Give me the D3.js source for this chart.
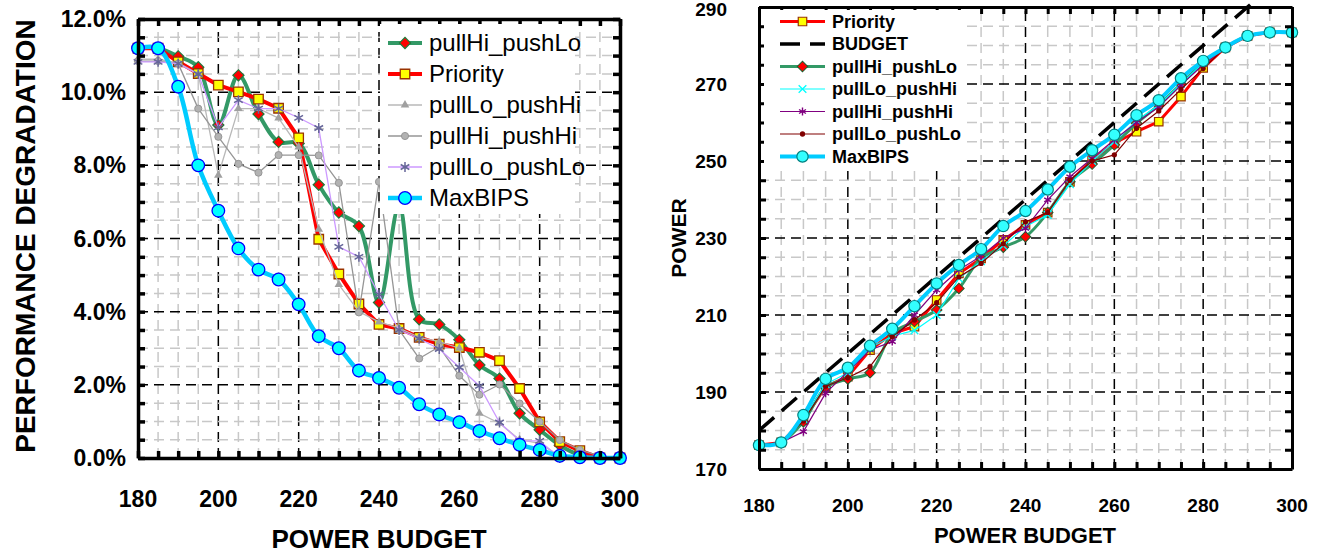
<!DOCTYPE html>
<html>
<head>
<meta charset="utf-8">
<script src="https://cdn.jsdelivr.net/npm/d3@7"></script>
<style>
  body { margin: 0; background: #fff; }
  svg { display: block; font-family: "Liberation Sans", Arial, sans-serif; }
</style>
</head>
<body>
<svg width="1327" height="554"></svg>
<script>
const svg = d3.select("svg");

// x categories (power budget), shared by both charts
const budgets = [180, 185, 190, 195, 200, 205, 210, 215, 220, 225, 230, 235, 240,
                 245, 250, 255, 260, 265, 270, 275, 280, 285, 290, 295, 300];

// left chart: performance degradation (%)
const degHiLo = [11.2, 11.2, 10.98, 10.68, 9.1, 10.46, 9.4, 8.64, 8.6, 7.47, 6.71, 6.34, 4.25,
                 6.89, 3.79, 3.65, 3.23, 2.54, 2.17, 1.22, 0.77, 0.35, 0.08, 0, 0];
const degPriority = [11.2, 11.2, 10.83, 10.51, 10.19, 10.01, 9.81, 9.56, 8.75, 5.98, 5.03, 4.21, 3.65,
                     3.54, 3.3, 3.11, 3.02, 2.89, 2.66, 1.9, 0.99, 0.45, 0.2, 0, 0];
const degLoHi = [10.9, 10.9, 10.8, 10.5, 7.73, 9.55, 9.55, 9.29, 8.5, 6.25, 4.74, 4.0, 3.72,
                 3.55, 3.3, 3.18, 3.0, 1.22, 0.95, 0.5, 0.4, 0.05, 0, 0, 0];
const degHiHi = [10.85, 10.85, 10.78, 9.55, 8.78, 8.04, 7.8, 8.28, 8.28, 8.27, 7.52, 3.98, 7.55,
                 3.5, 2.72, 3.04, 2.25, 1.73, 2.01, 1.49, 0.99, 0.49, 0.22, 0.05, 0];
const degLoLo = [10.83, 10.83, 10.78, 10.49, 9.04, 9.78, 9.55, 9.55, 9.3, 9.02, 5.77, 5.5, 4.47,
                 3.5, 3.26, 2.98, 2.48, 1.97, 0.97, 0.47, 0.47, 0, 0, 0, 0];
const degMaxBIPS = [11.2, 11.2, 10.15, 8.0, 6.76, 5.73, 5.15, 4.88, 4.2, 3.33, 3.0, 2.39, 2.19,
                    1.92, 1.47, 1.19, 0.98, 0.74, 0.54, 0.36, 0.22, 0.06, 0.02, 0, 0];

// right chart: power
const pwPriority = [176.2, 176.9, 182.7, 191.4, 194.0, 200.9, 205.2, 207.0, 213.9, 220.8, 224.7, 229.5, 233.4,
                    236.6, 244.6, 250.3, 254.6, 257.6, 260.2, 266.7, 274.2, 279.5, 282.5, 283.4, 283.4];
const pwBudget = [180, 292];
const pwHiLo = [176.2, 176.9, 182.3, 191.2, 193.4, 195.0, 205.2, 208.3, 211.3, 216.9, 224.7, 227.6, 230.3,
                236.6, 244.6, 249.2, 254.2, 259.8, 264.5, 270.0, 275.5, 279.5, 282.5, 283.4, 283.4];
const pwLoHi = [176.2, 176.9, 183.0, 192.0, 195.0, 201.5, 204.5, 206.0, 210.0, 219.5, 224.0, 228.0, 233.0,
                236.0, 244.0, 250.0, 255.0, 260.5, 264.5, 270.0, 275.5, 279.5, 282.5, 283.4, 283.4];
const pwHiHi = [176.2, 176.9, 179.7, 189.7, 195.3, 200.9, 203.1, 210.0, 216.5, 221.7, 225.3, 230.0, 232.5,
                239.9, 245.9, 250.7, 255.5, 260.0, 264.0, 269.7, 275.0, 279.5, 282.5, 283.4, 283.4];
const pwLoLo = [176.2, 176.9, 182.5, 191.5, 193.7, 196.6, 204.4, 208.7, 213.2, 219.9, 223.4, 228.5, 234.2,
                236.6, 245.0, 250.0, 251.6, 258.5, 263.0, 268.6, 274.0, 279.5, 282.5, 283.4, 283.4];
const pwMaxBIPS = [176.2, 176.9, 184.0, 193.4, 196.3, 202.0, 206.4, 212.3, 218.2, 223.0, 227.1, 233.1, 237.0,
                   242.6, 248.5, 252.8, 256.8, 261.9, 265.8, 271.5, 276.0, 279.5, 282.5, 283.4, 283.4];

// tick values
const xMinor = budgets;
const xLabels = [180, 200, 220, 240, 260, 280, 300];
const degMinor = [0, 0.5, 1, 1.5, 2, 2.5, 3, 3.5, 4, 4.5, 5, 5.5, 6, 6.5, 7, 7.5, 8, 8.5, 9, 9.5, 10, 10.5, 11, 11.5, 12];
const degLabels = [0, 2, 4, 6, 8, 10, 12];
const pwMinor = [170, 175, 180, 185, 190, 195, 200, 205, 210, 215, 220, 225, 230, 235, 240, 245,
                 250, 255, 260, 265, 270, 275, 280, 285, 290];
const pwLabels = [170, 190, 210, 230, 250, 270, 290];

// ---------- helpers ----------
function marker(kind, size) {
  const t = { circle: d3.symbolCircle, square: d3.symbolSquare, diamond: d3.symbolSquare,
              triangle: d3.symbolTriangle, star: d3.symbolAsterisk, times: d3.symbolTimes }[kind];
  return d3.symbol(t, size)();
}

function grid(g, x, y, xs, ys, xMajor, yMajor) {
  const [x0, x1] = x.range(), [y0, y1] = y.range();
  const isMaj = (arr, v) => arr.includes(v);
  g.selectAll(null).data(xs.filter(v => v > x.domain()[0] && v < x.domain()[1])).join("line")
    .attr("x1", d => x(d)).attr("x2", d => x(d)).attr("y1", y0).attr("y2", y1)
    .attr("stroke", d => isMaj(xMajor, d) ? "#000" : "#c8c8c8")
    .attr("stroke-width", 1.5).attr("stroke-dasharray", "10,6");
  g.selectAll(null).data(ys.filter(v => v > y.domain()[0] && v < y.domain()[1])).join("line")
    .attr("y1", d => y(d)).attr("y2", d => y(d)).attr("x1", x0).attr("x2", x1)
    .attr("stroke", d => isMaj(yMajor, d) ? "#000" : "#c8c8c8")
    .attr("stroke-width", 1.5).attr("stroke-dasharray", "10,6");
}

function frame(g, x, y, xs, ys, lw) {
  const [x0, x1] = x.range(), [y0, y1] = y.range();
  [[d3.axisBottom(x), y0], [d3.axisTop(x), y1]].forEach(([ax, pos]) => {
    g.append("g").attr("transform", `translate(0,${pos})`)
      .call(ax.tickValues(xs).tickSize(-7).tickSizeOuter(0).tickFormat(""))
      .call(a => a.selectAll("line,path").attr("stroke", "#000").attr("stroke-width", lw));
  });
  [[d3.axisLeft(y), x0], [d3.axisRight(y), x1]].forEach(([ax, pos]) => {
    g.append("g").attr("transform", `translate(${pos},0)`)
      .call(ax.tickValues(ys).tickSize(-7).tickSizeOuter(0).tickFormat(""))
      .call(a => a.selectAll("line,path").attr("stroke", "#000").attr("stroke-width", lw));
  });
}

function series(g, x, y, xs, ys, st) {
  const line = d3.line().x((d, i) => x(xs[i])).y(d => y(d)).curve(st.curve || d3.curveLinear);
  g.append("path").datum(ys).attr("d", line).attr("fill", "none")
    .attr("stroke", st.color).attr("stroke-width", st.lw)
    .attr("stroke-linejoin", "round").attr("stroke-dasharray", st.dash || null);
  if (!st.mk) return;
  g.selectAll(null).data(ys).join("path")
    .attr("transform", (d, i) => `translate(${x(xs[i])},${y(d)})` + (st.mk === "diamond" ? " rotate(45)" : ""))
    .attr("d", marker(st.mk, st.size))
    .attr("fill", st.fill || "none").attr("stroke", st.stroke || "none")
    .attr("stroke-width", st.sw || 1);
}

function legend(g, x, y0, dy, items, fontSize, weight, lineLen) {
  items.forEach((it, i) => {
    const y = y0 + i * dy;
    g.append("line").attr("x1", x).attr("x2", x + lineLen).attr("y1", y).attr("y2", y)
      .attr("stroke", it.st.color).attr("stroke-width", it.st.lw)
      .attr("stroke-dasharray", it.st.dash || null);
    if (it.st.mk) {
      g.append("path").attr("transform", `translate(${x + lineLen / 2},${y})` + (it.st.mk === "diamond" ? " rotate(45)" : ""))
        .attr("d", marker(it.st.mk, it.st.size))
        .attr("fill", it.st.fill || "none").attr("stroke", it.st.stroke || "none")
        .attr("stroke-width", it.st.sw || 1);
    }
    g.append("text").attr("x", x + lineLen + 7).attr("y", y).attr("dy", "0.35em")
      .attr("font-size", fontSize).attr("font-weight", weight).text(it.name);
  });
}

// ---------- left chart ----------
const xL = d3.scaleLinear().domain([180, 300]).range([138, 620]);
const yL = d3.scaleLinear().domain([0, 12]).range([458, 19]);
const gL = svg.append("g");

grid(gL, xL, yL, xMinor, degMinor, [200, 220, 240, 260, 280], [2, 4, 6, 8, 10]);

const stL = {
  hiLo: { color: "#339966", lw: 4, curve: d3.curveCatmullRom, mk: "diamond", size: 62, fill: "#ff0000", stroke: "#1f7a3a", sw: 1.2 },
  pri: { color: "#ff0000", lw: 4, mk: "square", size: 90, fill: "#ffff00", stroke: "#993300", sw: 1.3 },
  loHi: { color: "#b8b8b8", lw: 1.3, mk: "triangle", size: 32, fill: "#a0a0a0" },
  hiHi: { color: "#969696", lw: 1.3, mk: "circle", size: 40, fill: "#b2b2b2", stroke: "#969696", sw: 1 },
  loLo: { color: "#cc99ff", lw: 1.3, mk: "star", size: 70, stroke: "#666699", sw: 1.5 },
  max: { color: "#00ccff", lw: 4.5, curve: d3.curveCatmullRom, mk: "circle", size: 125, fill: "#00ffff", stroke: "#0000ff", sw: 1.3 }
};

series(gL, xL, yL, budgets, degHiLo, stL.hiLo);
series(gL, xL, yL, budgets, degPriority, stL.pri);
series(gL, xL, yL, budgets, degLoHi, stL.loHi);
series(gL, xL, yL, budgets, degHiHi, stL.hiHi);
series(gL, xL, yL, budgets, degLoLo, stL.loLo);
series(gL, xL, yL, budgets, degMaxBIPS, stL.max);

frame(gL, xL, yL, xMinor, degMinor, 3.5);

gL.selectAll(null).data(degLabels).join("text")
  .attr("x", 126).attr("y", d => yL(d)).attr("dy", "0.35em").attr("text-anchor", "end")
  .attr("font-size", 23).attr("font-weight", "bold").text(d => d.toFixed(1) + "%");
gL.selectAll(null).data(xLabels).join("text")
  .attr("x", d => xL(d)).attr("y", 499).attr("dy", "0.35em").attr("text-anchor", "middle")
  .attr("font-size", 23).attr("font-weight", "bold").text(d => d);
gL.append("text").attr("x", 379).attr("y", 539).attr("dy", "0.35em").attr("text-anchor", "middle")
  .attr("font-size", 26).attr("font-weight", "bold").text("POWER BUDGET");
gL.append("text").attr("transform", "translate(25,236) rotate(-90)").attr("dy", "0.35em")
  .attr("text-anchor", "middle").attr("font-size", 28).attr("font-weight", "bold")
  .text("PERFORMANCE DEGRADATION");

const legL = gL.append("g");
legL.append("rect").attr("x", 380).attr("y", 24).attr("width", 195).attr("height", 190).attr("fill", "#fff");
legend(legL, 388, 43, 31, [
  { name: "pullHi_pushLo", st: stL.hiLo },
  { name: "Priority", st: stL.pri },
  { name: "pullLo_pushHi", st: stL.loHi },
  { name: "pullHi_pushHi", st: stL.hiHi },
  { name: "pullLo_pushLo", st: stL.loLo },
  { name: "MaxBIPS", st: stL.max }
], 24, "normal", 34);

// ---------- right chart ----------
const xR = d3.scaleLinear().domain([180, 300]).range([759, 1292]);
const yR = d3.scaleLinear().domain([170, 290]).range([469, 7]);
const gR = svg.append("g");

grid(gR, xR, yR, xMinor, pwMinor, [200, 220, 240, 260, 280], [190, 210, 230, 250, 270]);

const stR = {
  pri: { color: "#ff0000", lw: 3, mk: "square", size: 72, fill: "#ffff00", stroke: "#993300", sw: 1.2 },
  bud: { color: "#000", lw: 3.5, dash: "20,10" },
  hiLo: { color: "#339966", lw: 3, curve: d3.curveCatmullRom, mk: "diamond", size: 56, fill: "#ff0000", stroke: "#1f5f2f", sw: 1 },
  loHi: { color: "#00ffff", lw: 1.2, mk: "times", size: 40, stroke: "#00ffff", sw: 1.3 },
  hiHi: { color: "#800080", lw: 1.2, mk: "star", size: 45, stroke: "#800080", sw: 1.4 },
  loLo: { color: "#800000", lw: 1.2, mk: "circle", size: 22, fill: "#800000" },
  max: { color: "#00ccff", lw: 4, curve: d3.curveCatmullRom, mk: "circle", size: 100, fill: "#33ffff", stroke: "#008080", sw: 1.2 }
};

series(gR, xR, yR, budgets, pwPriority, stR.pri);
series(gR, xR, yR, pwBudget, pwBudget, stR.bud);
series(gR, xR, yR, budgets, pwHiLo, stR.hiLo);
series(gR, xR, yR, budgets, pwLoHi, stR.loHi);
series(gR, xR, yR, budgets, pwHiHi, stR.hiHi);
series(gR, xR, yR, budgets, pwLoLo, stR.loLo);
series(gR, xR, yR, budgets, pwMaxBIPS, stR.max);

frame(gR, xR, yR, xMinor, pwMinor, 3);

gR.selectAll(null).data(pwLabels).join("text")
  .attr("x", 727).attr("y", d => Math.max(yR(d), 9)).attr("dy", "0.35em").attr("text-anchor", "end")
  .attr("font-size", 19).attr("font-weight", "bold").text(d => d);
gR.selectAll(null).data(xLabels).join("text")
  .attr("x", d => xR(d)).attr("y", 505).attr("dy", "0.35em").attr("text-anchor", "middle")
  .attr("font-size", 19).attr("font-weight", "bold").text(d => d);
gR.append("text").attr("x", 1025).attr("y", 535).attr("dy", "0.35em").attr("text-anchor", "middle")
  .attr("font-size", 22).attr("font-weight", "bold").text("POWER BUDGET");
gR.append("text").attr("transform", "translate(679,238) rotate(-90)").attr("dy", "0.35em")
  .attr("text-anchor", "middle").attr("font-size", 21).attr("font-weight", "bold").text("POWER");

const legR = gR.append("g");
legR.append("rect").attr("x", 764).attr("y", 10).attr("width", 200).attr("height", 160).attr("fill", "#fff");
legend(legR, 780, 21.5, 22.5, [
  { name: "Priority", st: stR.pri },
  { name: "BUDGET", st: stR.bud },
  { name: "pullHi_pushLo", st: stR.hiLo },
  { name: "pullLo_pushHi", st: stR.loHi },
  { name: "pullHi_pushHi", st: stR.hiHi },
  { name: "pullLo_pushLo", st: stR.loLo },
  { name: "MaxBIPS", st: stR.max }
], 18, "bold", 45);
</script>
</body>
</html>
